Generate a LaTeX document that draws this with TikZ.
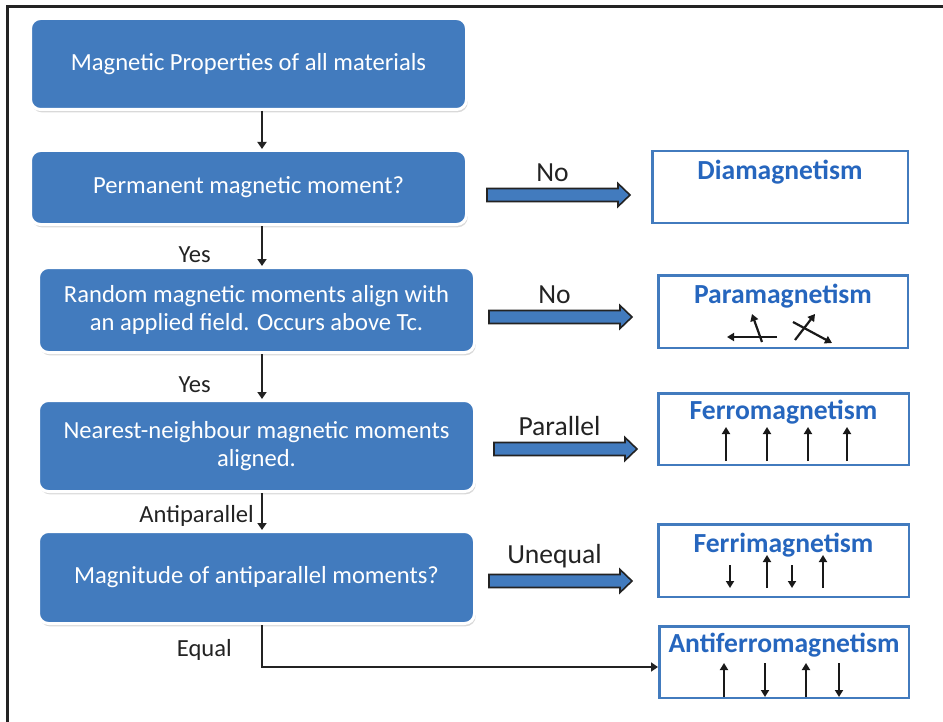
\documentclass[tikz,border=0pt]{standalone}
\usepackage{fontspec}
\setmainfont{Carlito}
\usetikzlibrary{arrows.meta,shadows}
\definecolor{boxblue}{RGB}{66,123,190}
\definecolor{titleblue}{RGB}{38,102,190}
\definecolor{inkgray}{RGB}{35,35,35}
\newcommand{\fatarrow}[3]{\draw[fat] (#1) ++(0,-6.5) -- ++(#2,0)
  node[midway,above=3pt,fatlbl]{#3} -- ++(0,-5) -- ++(12,11.5)
  -- ++(-12,11.5) -- ++(0,-5) -- ++(-#2,0) -- cycle;}
\tikzset{
  stage/.style={rectangle, rounded corners=5pt, fill=boxblue, draw=white,
    line width=1.5pt, text=white, align=center, inner sep=2pt,
    font=\fontsize{12.3}{14}\selectfont,
    drop shadow={opacity=0.3, shadow xshift=0.6pt, shadow yshift=-1.4pt}},
  result/.style={rectangle, draw=boxblue, line width=1.25pt, fill=white},
  rtitle/.style={text=titleblue, inner sep=0pt,
    font=\bfseries\fontsize{13.8}{15}\selectfont},
  lbl/.style={text=inkgray, inner sep=0pt, font=\fontsize{12.3}{14}\selectfont},
  fatlbl/.style={text=inkgray, inner sep=0pt, font=\fontsize{13.8}{15}\selectfont},
  fat/.style={fill=boxblue, draw=inkgray, line width=0.8pt, line join=miter},
  flow/.style={-{Triangle[length=3.5pt,width=4.5pt]}, line width=1.2pt, draw=inkgray},
  spin/.style={-{Triangle[length=3.5pt,width=4pt]}, line width=1.3pt, draw=black!90},
  frame/.style={line width=1.5pt, draw=inkgray}
}

\begin{document}
\begin{tikzpicture}[x=0.5pt,y=-0.5pt]
  \useasboundingbox (0,0) rectangle (943,722);
  \draw[frame] (7,722) -- (7,7) -- (943,7);

  \node[stage, minimum width=218pt, minimum height=45.5pt] (b1) at (248.5,64)
    {Magnetic Properties of all materials};
  \node[stage, minimum width=218pt, minimum height=37pt] (b2) at (248.5,187.5)
    {Permanent magnetic moment?};
  \node[stage, minimum width=218pt, minimum height=42.5pt] (b3) at (256.5,310)
    {Random magnetic moments align with\\an applied field. Occurs above Tc.};
  \node[stage, minimum width=218pt, minimum height=45.5pt] (b4) at (256.5,446)
    {Nearest-neighbour magnetic moments\\aligned.};
  \node[stage, minimum width=218pt, minimum height=46pt] (b5) at (256.5,577.5)
    {Magnitude of antiparallel moments?};

  \node[result, minimum width=127.75pt, minimum height=35.75pt] (r1) at (780,187) {};
  \node[result, minimum width=124.75pt, minimum height=36.25pt] (r2) at (783,311.5) {};
  \node[result, minimum width=125.25pt, minimum height=35.75pt] (r3) at (783.5,429) {};
  \node[result, minimum width=125.25pt, minimum height=36.25pt] (r4) at (783.5,560.5) {};
  \node[result, minimum width=124.75pt, minimum height=35.75pt] (r5) at (784,662) {};

  \node[rtitle] (t1) at ([yshift=-11pt]r1.north) {Diamagnetism};
  \node[rtitle] (t2) at ([yshift=-11pt]r2.north) {Paramagnetism};
  \node[rtitle] (t3) at ([yshift=-10pt]r3.north) {Ferromagnetism};
  \node[rtitle] (t4) at ([yshift=-11pt]r4.north) {Ferrimagnetism};
  \node[rtitle] (t5) at ([yshift=-10pt]r5.north) {Antiferromagnetism};

  \coordinate (spine) at (262,0);
  \draw[flow] (b1.south -| spine) -- (b2.north -| spine);
  \draw[flow] (b2.south -| spine) -- node[lbl, pos=0.72, left=25pt]{Yes} (b3.north -| spine);
  \draw[flow] (b3.south -| spine) -- node[lbl, pos=0.68, left=25pt]{Yes} (b4.north -| spine);
  \draw[flow] (b4.south -| spine) -- node[lbl, pos=0.62, left=3.5pt]{Antiparallel} (b5.north -| spine);
  \draw[flow] (b5.south -| spine) |- node[lbl, pos=0.3, left=14.5pt]{Equal}
    ([yshift=-2.5pt]r5.west);

  \coordinate (n1) at (487,195);
  \coordinate (n2) at (489,317);
  \coordinate (n3) at (494,449);
  \coordinate (n4) at (489,581);
  \fatarrow{n1}{131}{No}
  \fatarrow{n2}{131}{No}
  \fatarrow{n3}{131}{Parallel}
  \fatarrow{n4}{131}{Unequal}

  \draw[spin, line width=1.1pt] (777,337) -- (727,337);
  \draw[spin, line width=1.1pt] (762,342) -- (752,314);
  \draw[spin, line width=1.1pt] (795,340) -- (815,314);
  \draw[spin, line width=1.1pt] (793,322) -- (832,343);

  \foreach \x in {726,767,808,847}
    \draw[spin] (\x,461) -- (\x,427);

  \foreach \x in {730,792}
    \draw[spin] (\x,565) -- (\x,588);
  \foreach \x in {767,823}
    \draw[spin] (\x,588) -- (\x,555);

  \foreach \x in {724,806}
    \draw[spin] (\x,697) -- (\x,663);
  \foreach \x in {765,839}
    \draw[spin] (\x,663) -- (\x,697);
\end{tikzpicture}
\end{document}
